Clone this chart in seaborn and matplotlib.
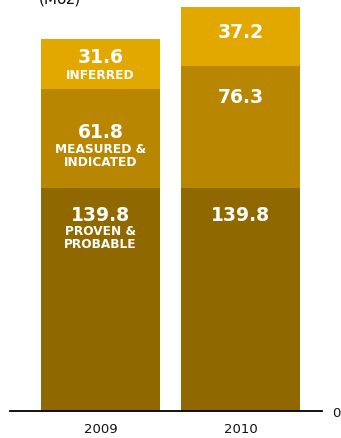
import matplotlib
matplotlib.use("Agg")
import matplotlib.pyplot as plt
import seaborn as sns
import pandas as pd
import numpy as np

years = ["2009", "2010"]
proven = [139.8, 139.8]
measured = [61.8, 76.3]
inferred = [31.6, 37.2]
layer_names = ["PROVEN &\nPROBABLE", "MEASURED &\nINDICATED", "INFERRED"]
unit_label = "(Moz)"

colors = ["#8F6900", "#B88600", "#E2A800"]

sns.set_theme(style="white")
plt.rcParams['font.family'] = ['DejaVu Sans']

W, H = 341, 439
fig = plt.figure(figsize=(W / 100, H / 100), dpi=100)
base_px = 412
ax = fig.add_axes([10 / W, (H - base_px) / H, (322 - 10) / W, base_px / H])

layers = [proven, measured, inferred]
cum = np.cumsum(np.array(layers), axis=0)
# draw from tallest (total) down so each layer overlays correctly
for i in range(2, -1, -1):
    df = pd.DataFrame({"year": years, "value": cum[i]})
    sns.barplot(data=df, x="year", y="value", color=colors[i], width=0.847,
                saturation=1, ax=ax, linewidth=0, edgecolor="none")

ax.set_xlim(-0.644, 1.577)
ax.set_ylim(0, base_px / 1.595)

for s in ["top", "left", "right"]:
    ax.spines[s].set_visible(False)
ax.spines["bottom"].set_color("black")
ax.spines["bottom"].set_linewidth(1.3)
ax.set_xlabel("")
ax.set_ylabel("")
ax.tick_params(axis="x", length=0, pad=8, labelsize=9.5, labelcolor="#111111")
ax.yaxis.tick_right()
ax.set_yticks([0])
ax.set_yticklabels(["0"])
ax.tick_params(axis="y", length=0, pad=7, labelsize=9.5, labelcolor="#111111")

# label offsets (pixels below segment top) for number and caption
num_off = [[26, 42, 17], [26, 30, 25]]
cap_off = [[49, 66, 35], [None, None, None]]

for j in range(2):
    for i in range(3):
        top = cum[i][j]
        val = layers[i][j]
        ax.annotate(f"{val:.1f}", xy=(j, top), xytext=(0, -num_off[j][i] * 0.72),
                    textcoords="offset points", ha="center", va="center",
                    color="white", fontsize=13.5, fontweight="bold")
        if cap_off[j][i] is not None:
            ax.annotate(layer_names[i], xy=(j, top), xytext=(0, -cap_off[j][i] * 0.72),
                        textcoords="offset points", ha="center", va="center",
                        color="white", fontsize=8.7, fontweight="bold",
                        linespacing=1.0)

fig.text(60 / W, 1 - 3 / H, unit_label, ha="center", va="baseline",
         fontsize=11, color="#111111")

fig.savefig("out.png", dpi=100)
